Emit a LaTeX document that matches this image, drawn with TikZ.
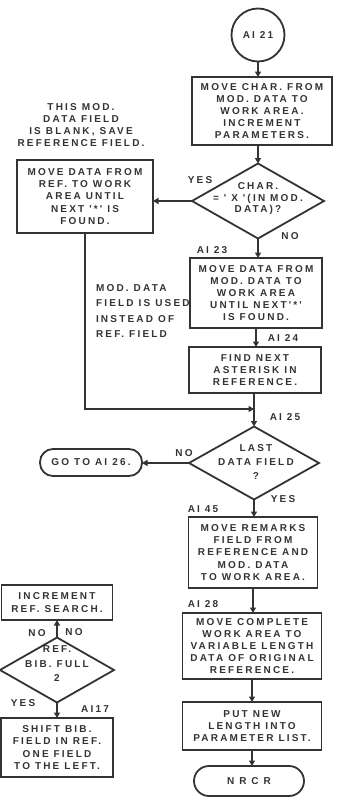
\documentclass[tikz,border=0pt]{standalone}
\usepackage{fontspec}
\usetikzlibrary{shapes.geometric,arrows.meta}
\newfontfamily\lab[LetterSpace=22]{Liberation Sans}
\newcommand\labfont{\lab\bfseries\fontsize{10}{12.2}\selectfont}
\definecolor{ink}{HTML}{333333}
\begin{document}
\begin{tikzpicture}[x=1pt,y=-1pt,
  every node/.style={text=ink,font=\labfont,align=center,inner sep=0pt,outer sep=0pt},
  box/.style={draw=ink,line width=1.8pt,rectangle},
  term/.style={draw=ink,line width=1.8pt,rectangle,rounded corners=13pt},
  dia/.style={draw=ink,line width=1.8pt,diamond},
  arr/.style={draw=ink,line width=1.6pt,-{Triangle[length=5.5pt,width=6pt]}},
  ln/.style={draw=ink,line width=1.6pt}]
\useasboundingbox (0,0) rectangle (340,798);

% main column
\node[draw=ink,line width=1.8pt,circle,minimum size=53pt] (c1) at (258,35) {AI 21};
\node[box,minimum width=140pt,minimum height=68pt] (b1) at (262,111)
  {MOVE CHAR. FROM\\MOD. DATA TO\\WORK AREA.\\INCREMENT\\PARAMETERS.};
\node[dia,minimum width=132pt,minimum height=75pt] (d1) at (258,201) {};
\node[font=\lab\bfseries\fontsize{10}{11.5}\selectfont] (d1t) at (258,199) {CHAR.\\= ' X '(IN MOD.\\DATA)?};
\node[box,minimum width=136pt,minimum height=73pt] (bL) at (85,196.5)
  {MOVE DATA FROM\\REF. TO WORK\\AREA UNTIL\\NEXT '*' IS\\FOUND.};
\node[box,minimum width=132pt,minimum height=70pt] (b23) at (256,293)
  {MOVE DATA FROM\\MOD. DATA TO\\WORK AREA\\UNTIL NEXT'*'\\IS FOUND.};
\node[box,minimum width=132pt,minimum height=46pt] (b24) at (255,370)
  {FIND NEXT\\ASTERISK IN\\REFERENCE.};
\node[dia,minimum width=130pt,minimum height=73pt] (d2) at (254,463) {};
\node[font=\lab\bfseries\fontsize{10}{14}\selectfont] (d2t) at (256,462) {LAST\\DATA FIELD\\?};
\node[term,minimum width=102pt,minimum height=27pt] (go) at (91,462.5) {GO TO AI 26.};
\node[box,minimum width=129pt,minimum height=71pt] (b45) at (253,552.5)
  {MOVE REMARKS\\FIELD FROM\\REFERENCE AND\\MOD. DATA\\TO WORK AREA.};
\node[box,minimum width=139pt,minimum height=66pt] (b28) at (252,646)
  {MOVE COMPLETE\\WORK AREA TO\\VARIABLE LENGTH\\DATA OF ORIGINAL\\REFERENCE.};
\node[box,minimum width=139pt,minimum height=48pt] (bput) at (252,726)
  {PUT NEW\\LENGTH INTO\\PARAMETER LIST.};
\node[term,rounded corners=15pt,minimum width=110pt,minimum height=30pt] (nrcr) at (249,781) {N R C R};

% left lower column
\node[box,minimum width=111pt,minimum height=35pt] (binc) at (57,602.5)
  {INCREMENT\\REF. SEARCH.};
\node[dia,minimum width=114pt,minimum height=65pt] (dR) at (57,670) {};
\node[font=\lab\bfseries\fontsize{10}{14.5}\selectfont] (dRt) at (57,664) {REF.\\BIB. FULL\\2};
\node[box,minimum width=112pt,minimum height=59pt] (bshift) at (57,747.5)
  {SHIFT BIB.\\FIELD IN REF.\\ONE FIELD\\TO THE LEFT.};

% annotations and labels
\node (n1) at (81,125) {THIS MOD.\\DATA FIELD\\IS BLANK, SAVE\\REFERENCE FIELD.};
\node[align=left,anchor=west,font=\lab\bfseries\fontsize{10}{15.5}\selectfont] (n2) at (96,311)
  {MOD. DATA\\FIELD IS USED\\INSTEAD OF\\REF. FIELD};
\node (lyes1) at (200,180) {YES};
\node (lno1) at (290,236) {NO};
\node (l23) at (212,250) {AI 23};
\node (l24) at (283,338) {AI 24};
\node (l25) at (285,417) {AI 25};
\node (lno2) at (184,453) {NO};
\node (lyes2) at (283,499) {YES};
\node (l45) at (203,509) {AI 45};
\node (l28) at (203,604) {AI 28};
\node (lno3) at (37,633) {NO};
\node (lno4) at (74,632) {NO};
\node (lyes3) at (23,703) {YES};
\node (l17) at (95,709) {AI17};

\coordinate (mrg) at (254,409);

% connectors
\draw[arr] (c1) -- (c1 |- b1.north);
\draw[arr] (d1.north |- b1.south) -- (d1.north);
\draw[arr] (d1.west) -- (d1.west -| bL.east);
\draw[arr] (d1.south) -- (d1.south |- b23.north);
\draw[arr] (b23.south) -- (b23.south |- b24.north);
\draw[arr] (d2.north |- b24.south) -- (d2.north);
\draw[arr] (bL.south) |- (mrg);
\draw[arr] (d2.west) -- (d2.west -| go.east);
\draw[arr] (d2.south) -- (d2.south |- b45.north);
\draw[arr] (b45.south) -- (b45.south |- b28.north);
\draw[arr] (b28.south) -- (b28.south |- bput.north);
\draw[arr] (bput.south) -- (bput.south |- nrcr.north);
\draw[arr] (dR.north) -- (dR.north |- binc.south);
\draw[arr] (dR.south) -- (dR.south |- bshift.north);
\end{tikzpicture}
\end{document}
